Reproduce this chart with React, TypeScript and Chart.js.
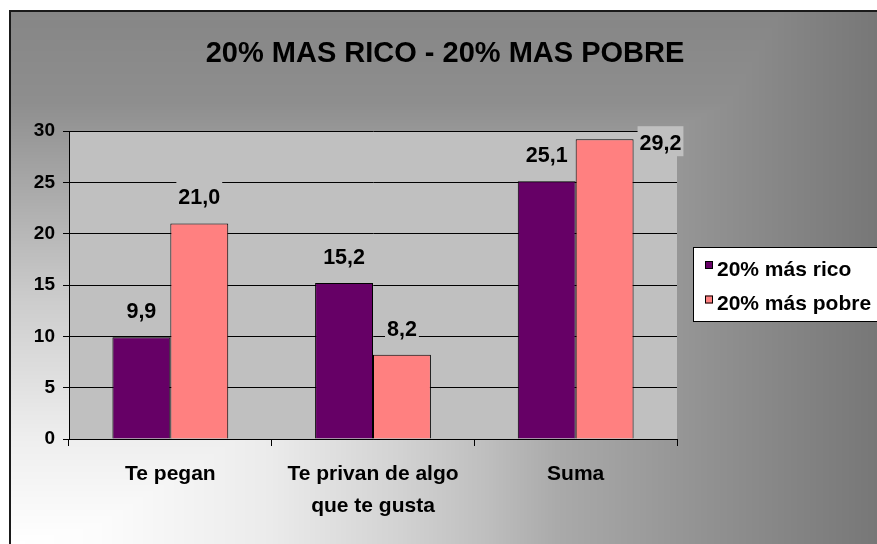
import React, { useEffect, useRef } from "react";
import { Chart, registerables } from "chart.js";

Chart.register(...registerables);

const TITLE = "20% MAS RICO - 20% MAS POBRE";
const categories: (string | string[])[] = ["Te pegan", ["Te privan de algo", "que te gusta"], "Suma"];
const seriesNames = ["20% más rico", "20% más pobre"];
const richValues = [9.9, 15.2, 25.1];
const poorValues = [21.0, 8.2, 29.2];
const yTicks = [0, 5, 10, 15, 20, 25, 30];

const FONT = '"Liberation Sans", Arial, sans-serif';
const PURPLE = "#660066";
const SALMON = "#FF8080";
const PLOT_BG = "#C0C0C0";

// background gradient profile (style only)
const FX: number[][] = [[0, 255], [0.1, 252], [0.3, 235], [0.45, 210], [0.55, 190], [0.63, 170], [0.8, 146], [1, 119]];
const FY: number[][] = [[0, 255], [0.2, 238], [0.46, 204], [0.65, 172], [0.83, 142], [1, 134]];

function interp(tbl: number[][], t: number) {
  if (t <= tbl[0][0]) return tbl[0][1];
  for (let i = 1; i < tbl.length; i++) {
    if (t <= tbl[i][0]) {
      const [t0, v0] = tbl[i - 1];
      const [t1, v1] = tbl[i];
      return v0 + ((t - t0) / (t1 - t0)) * (v1 - v0);
    }
  }
  return tbl[tbl.length - 1][1];
}

const fmt = (v: number) => v.toFixed(1).replace(".", ",");

const decorPlugin = {
  id: "decor",
  beforeDraw(chart: any) {
    const ctx = chart.ctx as CanvasRenderingContext2D;
    const W = chart.width;
    const H = chart.height;
    const img = ctx.createImageData(W, H);
    const x0 = 10, y0 = 11;
    for (let y = 0; y < H; y++) {
      const dy = (H - y) / (H - y0);
      const cy = interp(FY, dy);
      for (let x = 0; x < W; x++) {
        const i = (y * W + x) * 4;
        let c = 255;
        if (x >= x0 && y >= y0) {
          const dx = (x - x0) / (W - x0);
          c = Math.min(interp(FX, dx), cy);
        }
        img.data[i] = c;
        img.data[i + 1] = c;
        img.data[i + 2] = c;
        img.data[i + 3] = 255;
      }
    }
    ctx.putImageData(img, 0, 0);
    ctx.save();
    ctx.fillStyle = "#1a1a1a";
    ctx.fillRect(9, 10, 2, H - 10);
    ctx.fillRect(9, 10, W - 9, 2);
    // plot area
    const a = chart.chartArea;
    ctx.fillStyle = PLOT_BG;
    ctx.fillRect(a.left, a.top, a.right - a.left, a.bottom - a.top);
    // title
    ctx.fillStyle = "#000";
    ctx.font = `bold 29px ${FONT}`;
    ctx.textAlign = "center";
    ctx.textBaseline = "alphabetic";
    ctx.fillText(TITLE, 445, 62);
    ctx.restore();
  },
  afterDraw(chart: any) {
    const ctx = chart.ctx as CanvasRenderingContext2D;
    const a = chart.chartArea;
    ctx.save();
    ctx.font = `bold 21.5px ${FONT}`;
    ctx.textBaseline = "alphabetic";
    ctx.textAlign = "left";
    chart.data.datasets.forEach((ds: any, di: number) => {
      const meta = chart.getDatasetMeta(di);
      meta.data.forEach((bar: any, i: number) => {
        const txt = fmt(ds.data[i]);
        const w = ctx.measureText(txt).width;
        let tx: number, base: number;
        if (bar.y - 19 - 15 < a.top) {
          tx = bar.x + bar.width / 2 + 6;
          base = bar.y + 11;
        } else {
          tx = bar.x - w / 2;
          base = bar.y - 19;
        }
        ctx.fillStyle = PLOT_BG;
        ctx.fillRect(tx - 2, base - 24, w + 4, 30);
        ctx.fillStyle = "#000";
        ctx.fillText(txt, tx, base);
      });
    });
    // legend
    ctx.font = `bold 21px ${FONT}`;
    const lx = 693, ly = 247;
    ctx.fillStyle = "#fff";
    ctx.fillRect(lx, ly, chart.width - lx + 5, 75);
    ctx.strokeStyle = "#000";
    ctx.lineWidth = 1;
    ctx.strokeRect(lx + 0.5, ly + 0.5, chart.width - lx + 5, 74);
    chart.data.datasets.forEach((ds: any, di: number) => {
      const rowTop = 261 + di * 34.5;
      ctx.fillStyle = ds.backgroundColor;
      ctx.fillRect(705, rowTop, 8, 8);
      ctx.strokeRect(705.5, rowTop + 0.5, 7, 7);
      ctx.fillStyle = "#000";
      ctx.fillText(ds.label, 717, rowTop + 14.5);
    });
    ctx.restore();
  },
};

export default function App() {
  const ref = useRef<HTMLCanvasElement | null>(null);
  useEffect(() => {
    if (!ref.current) return;
    const chart = new Chart(ref.current, {
      type: "bar",
      data: {
        labels: categories,
        datasets: [
          { label: seriesNames[0], data: richValues, backgroundColor: PURPLE, borderColor: "#000", borderWidth: 1 },
          { label: seriesNames[1], data: poorValues, backgroundColor: SALMON, borderColor: "#000", borderWidth: 1 },
        ],
      },
      options: {
        responsive: false,
        animation: false,
        devicePixelRatio: 1,
        layout: { padding: { left: 10, right: 200, top: 131, bottom: 25 } },
        datasets: { bar: { categoryPercentage: 2 / 3.5, barPercentage: 1 } } as any,
        plugins: { legend: { display: false }, title: { display: false }, tooltip: { enabled: false } },
        scales: {
          x: {
            grid: { offset: true, drawOnChartArea: false, color: "#000", tickLength: 7 },
            border: { color: "#000" },
            ticks: { color: "#000", padding: 12, font: { family: FONT, size: 21, weight: "bold", lineHeight: 1.52 } },
            afterFit: (s: any) => { s.height = 80; },
          },
          y: {
            min: yTicks[0],
            max: yTicks[yTicks.length - 1],
            afterBuildTicks: (s: any) => { s.ticks = yTicks.map((v) => ({ value: v })); },
            grid: { color: "#000", tickLength: 6 },
            border: { color: "#000" },
            ticks: { color: "#000", padding: 8, font: { family: FONT, size: 19, weight: "bold" } },
            afterFit: (s: any) => { s.width = 59; },
          },
        },
      },
      plugins: [decorPlugin],
    });
    return () => chart.destroy();
  }, []);
  return (
    <div style={{ position: "fixed", left: 0, top: 0, width: 877, height: 544 }}>
      <canvas ref={ref} width={877} height={544} style={{ display: "block" }} />
    </div>
  );
}
